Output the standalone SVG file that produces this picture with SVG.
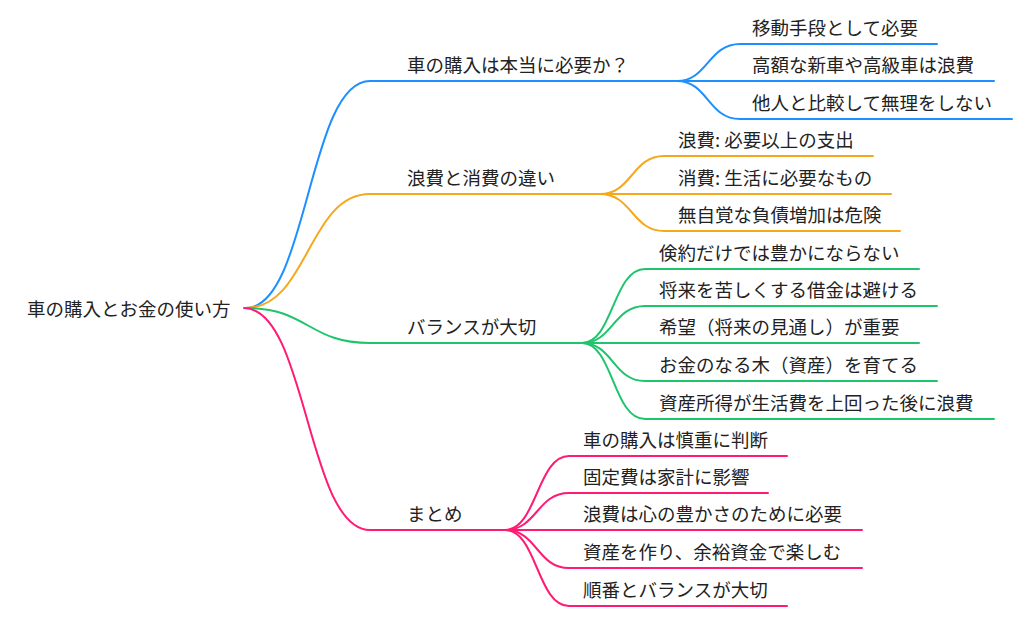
<svg xmlns="http://www.w3.org/2000/svg" width="1024" height="618" viewBox="0 0 1024 618">
<style>
text{font-family:"Noto Sans CJK JP","Noto Sans",sans-serif;font-size:18.5px;fill:#222;}
.l{fill:none;stroke-width:2;stroke-linecap:round;}
.b{stroke:#1e8fff;}
.o{stroke:#f5a81c;}
.g{stroke:#1fc46d;}
.p{stroke:#ff1a74;}
</style>
<rect width="1024" height="618" fill="#fff"/>
<g id="connectors">
<path class="l b" d="M246,308 C308,308 308,81 370,81 L677,81"/>
<path class="l o" d="M246,308 C308,308 308,194 370,194 L600,194"/>
<path class="l g" d="M246,308 C308,308 308,343 370,343 L582,343"/>
<path class="l p" d="M244,308 C307,308 307,530 370,530 L505,530"/>
<path class="l b" d="M677,81 C708,81 708,44 740,44 L937,44"/>
<path class="l b" d="M677,81 L994,81"/>
<path class="l b" d="M677,81 C708,81 708,119 740,119 L1012,119"/>
<path class="l o" d="M600,194 C632,194 632,156 664,156 L873,156"/>
<path class="l o" d="M600,194 L891,194"/>
<path class="l o" d="M600,194 C632,194 632,231 664,231 L900,231"/>
<path class="l g" d="M582,343 C613,343 613,269 645,269 L919,269"/>
<path class="l g" d="M582,343 C613,343 613,306 645,306 L937,306"/>
<path class="l g" d="M582,343 L919,343"/>
<path class="l g" d="M582,343 C613,343 613,381 645,381 L937,381"/>
<path class="l g" d="M582,343 C613,343 613,419 645,419 L994,419"/>
<path class="l p" d="M505,530 C537,530 537,456 569,456 L787,456"/>
<path class="l p" d="M505,530 C537,530 537,493 569,493 L768,493"/>
<path class="l p" d="M505,530 L862,530"/>
<path class="l p" d="M505,530 C537,530 537,568 569,568 L862,568"/>
<path class="l p" d="M505,530 C537,530 537,606 569,606 L787,606"/>
</g>
<g id="root"><text x="27" y="316">車の購入とお金の使い方</text></g>
<g id="n1"><text x="407" y="72">車の購入は本当に必要か？</text></g>
<g id="n1-1"><text x="752" y="35">移動手段として必要</text></g>
<g id="n1-2"><text x="752" y="72">高額な新車や高級車は浪費</text></g>
<g id="n1-3"><text x="752" y="110">他人と比較して無理をしない</text></g>
<g id="n2"><text x="407" y="185">浪費と消費の違い</text></g>
<g id="n2-1"><text x="678" y="147">浪費: 必要以上の支出</text></g>
<g id="n2-2"><text x="678" y="185">消費: 生活に必要なもの</text></g>
<g id="n2-3"><text x="678" y="222">無自覚な負債増加は危険</text></g>
<g id="n3"><text x="407" y="334">バランスが大切</text></g>
<g id="n3-1"><text x="659" y="260">倹約だけでは豊かにならない</text></g>
<g id="n3-2"><text x="659" y="297">将来を苦しくする借金は避ける</text></g>
<g id="n3-3"><text x="659" y="334">希望（将来の見通し）が重要</text></g>
<g id="n3-4"><text x="659" y="372">お金のなる木（資産）を育てる</text></g>
<g id="n3-5"><text x="659" y="410">資産所得が生活費を上回った後に浪費</text></g>
<g id="n4"><text x="407" y="521">まとめ</text></g>
<g id="n4-1"><text x="583" y="447">車の購入は慎重に判断</text></g>
<g id="n4-2"><text x="583" y="484">固定費は家計に影響</text></g>
<g id="n4-3"><text x="583" y="521">浪費は心の豊かさのために必要</text></g>
<g id="n4-4"><text x="583" y="559">資産を作り、余裕資金で楽しむ</text></g>
<g id="n4-5"><text x="583" y="597">順番とバランスが大切</text></g>
</svg>
